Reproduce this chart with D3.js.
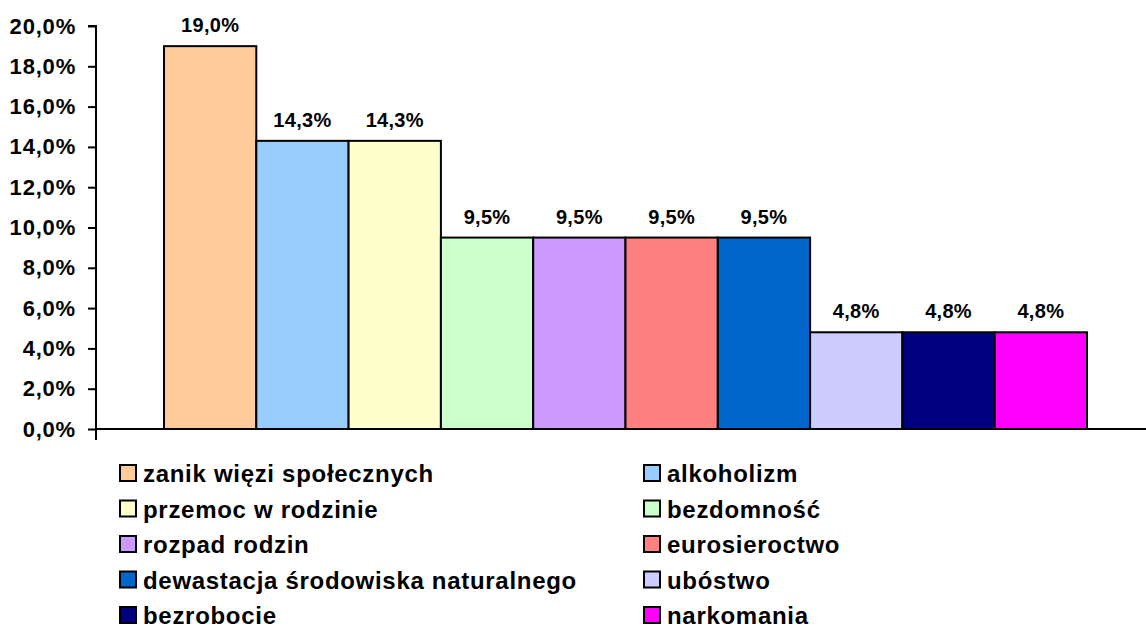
<!DOCTYPE html>
<html><head><meta charset="utf-8">
<script src="https://cdn.jsdelivr.net/npm/d3@7"></script>
<style>body{margin:0;background:#fff}svg{display:block}</style>
</head><body>
<svg id="c" width="1146" height="628"></svg>
<script>
const categories = ["zanik więzi społecznych","alkoholizm","przemoc w rodzinie","bezdomność","rozpad rodzin","eurosieroctwo","dewastacja środowiska naturalnego","ubóstwo","bezrobocie","narkomania"];
const values = [19.0,14.3,14.3,9.5,9.5,9.5,9.5,4.8,4.8,4.8];
const colors = ["#FFCC99","#99CCFF","#FFFFCC","#CCFFCC","#CC99FF","#FF8080","#0066CC","#CCCCFF","#000080","#FF00FF"];
const yTicks = [0,2,4,6,8,10,12,14,16,18,20];

const svg = d3.select("#c");
const font = "'Liberation Sans', Arial, sans-serif";
const fmt = v => v.toFixed(1).replace(".", ",") + "%";

const x0 = 96, y0 = 429, yTop = 26;
const y = d3.scaleLinear().domain([0,20]).range([y0, yTop]);
const x = d3.scaleBand().domain(categories).range([164, 1087]).padding(0);

// bars
svg.append("g").selectAll("rect").data(categories).join("rect")
  .attr("x", d => x(d)).attr("width", x.bandwidth())
  .attr("y", (d,i) => y(values[i])).attr("height", (d,i) => y(0) - y(values[i]))
  .attr("fill", (d,i) => colors[i]).attr("stroke", "#000").attr("stroke-width", 2);

// labels
svg.append("g").selectAll("text").data(categories).join("text")
  .attr("x", d => x(d) + x.bandwidth()/2).attr("y", (d,i) => y(values[i]) - 14)
  .attr("text-anchor", "middle").attr("font-family", font).attr("font-weight", "bold")
  .attr("font-size", 20).attr("letter-spacing", 0.3).text((d,i) => fmt(values[i]));

// y axis
const yAxis = d3.axisLeft(y).tickValues(yTicks).tickFormat(d => fmt(d)).tickSize(8).tickPadding(12);
const ga = svg.append("g").attr("transform", `translate(${x0},0)`).call(yAxis);
ga.select(".domain").attr("stroke-width", 2).attr("d", `M-8,${yTop}H0V${y0}`);
ga.selectAll(".tick line").attr("stroke-width", 2);
ga.selectAll(".tick text").attr("font-family", font).attr("font-weight", "bold")
  .attr("font-size", 22).attr("letter-spacing", 0.8).attr("fill", "#000");
ga.attr("font-size", null).attr("font-family", null);

// x axis
svg.append("path").attr("d", `M${x0},${y0}H1146M${x0},${y0}V440`).attr("stroke", "#000").attr("stroke-width", 2).attr("fill", "none");

// legend
const leg = svg.append("g");
categories.forEach((c, i) => {
  const col = i % 2, row = Math.floor(i / 2);
  const lx = col === 0 ? 120 : 644;
  const base = 482 + row * 35.5;
  leg.append("rect").attr("x", lx).attr("y", base - 17).attr("width", 16).attr("height", 16)
    .attr("fill", colors[i]).attr("stroke", "#000").attr("stroke-width", 2);
  leg.append("text").attr("x", lx + 23).attr("y", base).attr("font-family", font)
    .attr("font-weight", "bold").attr("font-size", 24).attr("letter-spacing", 0.7).text(c);
});
</script>
</body></html>
